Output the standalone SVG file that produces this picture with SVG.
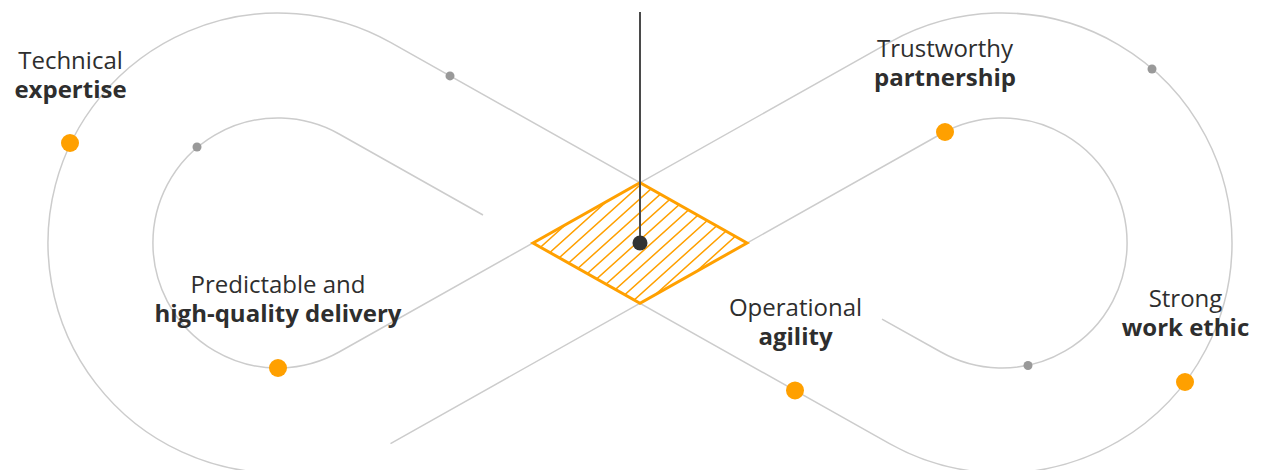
<svg xmlns="http://www.w3.org/2000/svg" width="1274" height="470" viewBox="0 0 1274 470">
  <defs>
    <style>
      .strand { fill: none; stroke: #cccccc; stroke-width: 1.5; }
      .dot-o { fill: #ffa000; }
      .dot-g { fill: #999999; }
      .t1 { font-family: "Open Sans", "Liberation Sans", sans-serif; font-size: 24px; font-weight: 400; fill: #2e2e2e; text-anchor: middle; }
      .t2 { font-family: "Open Sans", "Liberation Sans", sans-serif; font-size: 24px; font-weight: 700; fill: #2e2e2e; text-anchor: middle; }
    </style>
    <clipPath id="diamondClip">
      <polygon points="533,243 640,182.7 747,243 640,303.3"/>
    </clipPath>
  </defs>
  <rect width="1274" height="470" fill="#ffffff"/>

  <g id="connectors">
    <path class="strand" d="M278,473 A230,230 0 1 1 390.5,42.4 L747,242.9"/>
    <path class="strand" d="M882,319.1 L940.9,352 A125,125 0 1 0 940.9,134 L390.5,443.6"/>
    <path class="strand" d="M483,215 L339.1,134 A125,125 0 1 0 339.1,352 L889.5,42.4 A230,230 0 1 1 889.5,443.6 L533,243.1"/>
  </g>

  <g id="center">
    <polygon points="533,243 640,182.7 747,243 640,303.3" fill="#ffffff"/>
    <path clip-path="url(#diamondClip)" fill="none" stroke="#ffa000" stroke-width="1.5" d="M475.2,306 L615.2,180 M490.43,306 L630.43,180 M505.66,306 L645.66,180 M520.89,306 L660.89,180 M536.12,306 L676.12,180 M551.35,306 L691.35,180 M566.58,306 L706.58,180 M581.81,306 L721.81,180 M597.04,306 L737.04,180 M612.27,306 L752.27,180 M627.5,306 L767.5,180 M642.73,306 L782.73,180 M657.96,306 L797.96,180"/>
    <polygon points="533,243 640,182.7 747,243 640,303.3" fill="none" stroke="#ffa000" stroke-width="3" stroke-linejoin="miter"/>
    <line x1="640" y1="12" x2="640" y2="243" stroke="#4a4a4a" stroke-width="2"/>
    <circle cx="640" cy="243" r="7.5" fill="#333333"/>
  </g>

  <g id="markers">
    <circle class="dot-g" cx="450" cy="75.9" r="4.5"/>
    <circle class="dot-g" cx="197" cy="147" r="4.5"/>
    <circle class="dot-g" cx="1152" cy="69" r="4.5"/>
    <circle class="dot-g" cx="1028" cy="365.5" r="4.5"/>
  </g>

  <g id="node-technical-expertise">
    <circle class="dot-o" cx="70" cy="143" r="9"/>
    <text class="t1" x="70.5" y="69">Technical</text>
    <text class="t2" x="70.5" y="98">expertise</text>
  </g>

  <g id="node-trustworthy-partnership">
    <circle class="dot-o" cx="945" cy="132" r="9"/>
    <text class="t1" x="945" y="57">Trustworthy</text>
    <text class="t2" x="945" y="86">partnership</text>
  </g>

  <g id="node-predictable-delivery">
    <circle class="dot-o" cx="278" cy="368" r="9"/>
    <text class="t1" x="278" y="293">Predictable and</text>
    <text class="t2" x="278" y="322">high-quality delivery</text>
  </g>

  <g id="node-operational-agility">
    <circle class="dot-o" cx="795" cy="390.4" r="9"/>
    <text class="t1" x="795.5" y="316">Operational</text>
    <text class="t2" x="795.5" y="345">agility</text>
  </g>

  <g id="node-strong-work-ethic">
    <circle class="dot-o" cx="1185" cy="382" r="9"/>
    <text class="t1" x="1185.5" y="307">Strong</text>
    <text class="t2" x="1185.5" y="336">work ethic</text>
  </g>
</svg>
